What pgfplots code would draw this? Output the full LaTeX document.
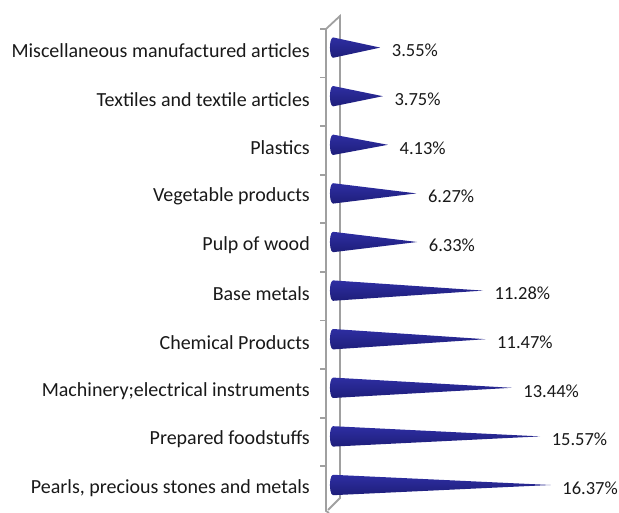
\documentclass[border=0pt]{standalone}
\usepackage{pgfplots}
\pgfplotsset{compat=1.18}
\usepackage{fontspec}
\setmainfont{Carlito}
\definecolor{conetop}{HTML}{2E2EA2}
\definecolor{conemid}{HTML}{4242CC}
\definecolor{conebot}{HTML}{1E1E7A}
\definecolor{wall}{HTML}{A0A0A0}
\newcommand{\cone}[2]{%
  \addplot[draw=none, top color=conetop, middle color=conemid, bottom color=conebot,
    y filter/.expression={y+#1}]
  coordinates {(0,0.21) (#2,0) (0,-0.21) (-0.12,-0.18) (-0.2,-0.11) (-0.23,0) (-0.2,0.11) (-0.12,0.18)} -- cycle;
}
\begin{document}
\begin{tikzpicture}[x=1pt,y=1pt]
\useasboundingbox (0,0) rectangle (619,513);
% 3D wall
\draw[wall, line width=1.8pt] (326,484) -- (326,2) -- (329,0);
\draw[wall, line width=1.8pt] (326,484) -- (340,497) -- (340,15) -- (328,3);
\foreach \k in {0,...,9} \draw[wall, line width=1.8pt] (320,484-48.6*\k) -- (326,484-48.6*\k);
\begin{axis}[
  at={(333pt,3.7pt)}, anchor=south west,
  scale only axis, width=266pt, height=486pt,
  xmin=0, xmax=20, ymin=-0.5, ymax=9.5,
  clip=false,
  axis line style={draw=none},
  xtick=\empty,
  ytick={0,...,9},
  yticklabels={{Pearls, precious stones and metals},{Prepared foodstuffs},{Machinery;electrical instruments},{Chemical Products},{Base metals},{Pulp of wood},{Vegetable products},{Plastics},{Textiles and textile articles},{Miscellaneous manufactured articles}},
  major tick length=0pt,
  yticklabel style={font=\fontsize{20}{23}\selectfont, color=black!90, anchor=east, inner sep=0pt, xshift=-23pt, yshift=-3pt},
]
\cone{0}{16.37}
\cone{1}{15.57}
\cone{2}{13.44}
\cone{3}{11.47}
\cone{4}{11.28}
\cone{5}{6.33}
\cone{6}{6.27}
\cone{7}{4.13}
\cone{8}{3.75}
\cone{9}{3.55}
\addplot[only marks, mark=none, nodes near coords, point meta=explicit symbolic,
  nodes near coords style={anchor=west, inner sep=0pt, xshift=11.5pt, yshift=-3pt, font=\fontsize{18.5}{22}\selectfont, color=black!90}]
coordinates {(16.37,0)[16.37\%] (15.57,1)[15.57\%] (13.44,2)[13.44\%] (11.47,3)[11.47\%] (11.28,4)[11.28\%] (6.33,5)[6.33\%] (6.27,6)[6.27\%] (4.13,7)[4.13\%] (3.75,8)[3.75\%] (3.55,9)[3.55\%]};
\end{axis}
\end{tikzpicture}
\end{document}
